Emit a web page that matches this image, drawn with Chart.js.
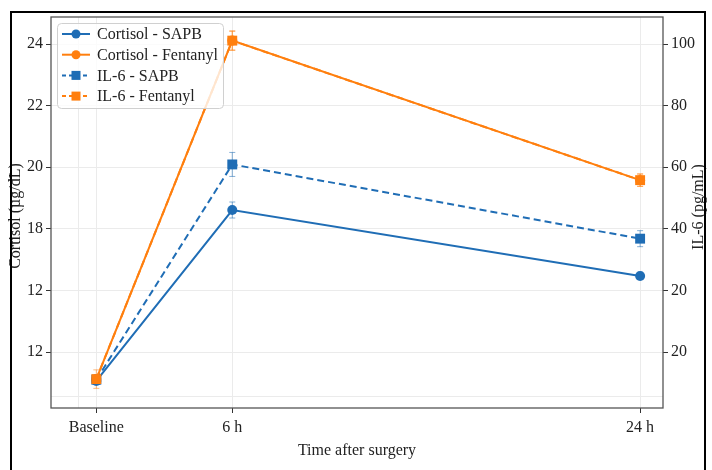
<!DOCTYPE html>
<html><head><meta charset="utf-8">
<script src="https://cdn.jsdelivr.net/npm/chart.js@4.4.1/dist/chart.umd.min.js"></script>
<style>html,body{margin:0;padding:0;background:#fff;}canvas{display:block;}</style>
</head><body>
<canvas id="c" width="712" height="470"></canvas>
<script>
// ---- data ----
const timeLabels = ['Baseline', '6 h', '24 h'];
const timeValues = [0, 6, 24];
const cortisolSAPB = [13.06, 18.61, 16.47];
const cortisolSAPBErr = [0.1, 0.26, 0.12];
const cortisolFent = [13.12, 24.11, 19.58];
const cortisolFentErr = [0.12, 0.3, 0.2];
const il6SAPB = [-9.0, 60.9, 36.8];
const il6SAPBErr = [1.5, 3.9, 2.6];
const il6Fent = [-8.8, 101.1, 55.8];
const il6FentErr = [3.0, 3.2, 2.0];
const leftTickValues = [14, 16, 18, 20, 22, 24];
const leftTickLabels = ['12', '12', '18', '20', '22', '24'];
const rightTickValues = [0, 20, 40, 60, 80, 100];
const rightTickLabels = ['20', '20', '40', '60', '80', '100'];
const extraYGrid = 12.54;
const extraXGrid = -0.8;

const BLUE = '#1f6db5';
const ORANGE = '#ff7f0e';
const FONT = "'Liberation Serif', 'DejaVu Serif', serif";

const pts = arr => arr.map((v, i) => ({x: timeValues[i], y: v}));

const datasets = [
  {label: 'Cortisol - SAPB', data: pts(cortisolSAPB), err: cortisolSAPBErr, yAxisID: 'y',
   borderColor: BLUE, backgroundColor: BLUE, pointStyle: 'circle', pointRadius: 5, order: 4, dash: []},
  {label: 'Cortisol - Fentanyl', data: pts(cortisolFent), err: cortisolFentErr, yAxisID: 'y',
   borderColor: ORANGE, backgroundColor: ORANGE, pointStyle: 'circle', pointRadius: 5, order: 3, dash: []},
  {label: 'IL-6 - SAPB', data: pts(il6SAPB), err: il6SAPBErr, yAxisID: 'y2',
   borderColor: BLUE, backgroundColor: BLUE, pointStyle: 'rect', pointRadius: 7, order: 2, borderDash: [7, 4], dash: [4, 3]},
  {label: 'IL-6 - Fentanyl', data: pts(il6Fent), err: il6FentErr, yAxisID: 'y2',
   borderColor: ORANGE, backgroundColor: ORANGE, pointStyle: 'rect', pointRadius: 7, order: 1, borderDash: [7, 4], dash: [4, 3]}
];
datasets.forEach(d => { d.borderWidth = 2; d.pointBorderWidth = 0; d.tension = 0; d.fill = false; });

const errPlugin = {
  id: 'errbars',
  beforeDatasetsDraw(chart) {
    const ctx = chart.ctx, xs = chart.scales.x;
    ctx.save();
    chart.data.datasets.forEach(ds => {
      const ys = chart.scales[ds.yAxisID];
      ctx.strokeStyle = ds.borderColor;
      ctx.globalAlpha = 0.55;
      ctx.lineWidth = 1;
      ds.data.forEach((p, i) => {
        const e = ds.err[i];
        const x = xs.getPixelForValue(p.x);
        const y1 = ys.getPixelForValue(p.y - e), y2 = ys.getPixelForValue(p.y + e);
        ctx.beginPath();
        ctx.moveTo(x, y1); ctx.lineTo(x, y2);
        ctx.moveTo(x - 3, y1); ctx.lineTo(x + 3, y1);
        ctx.moveTo(x - 3, y2); ctx.lineTo(x + 3, y2);
        ctx.stroke();
      });
    });
    ctx.restore();
  }
};

const framePlugin = {
  id: 'frame',
  afterDraw(chart) {
    const ctx = chart.ctx, a = chart.chartArea;
    ctx.save();
    // legend
    const lx = 57, ly = 23, lw = 166, lh = 85;
    ctx.globalAlpha = 0.8;
    ctx.fillStyle = '#fff';
    ctx.beginPath(); ctx.roundRect(lx, ly, lw, lh, 4); ctx.fill();
    ctx.globalAlpha = 1;
    ctx.strokeStyle = '#d0d0d0'; ctx.lineWidth = 1;
    ctx.beginPath(); ctx.roundRect(lx + 0.5, ly + 0.5, lw, lh, 4); ctx.stroke();
    chart.data.datasets.forEach((ds, i) => {
      const y = 34 + i * 20.7;
      ctx.strokeStyle = ds.borderColor; ctx.fillStyle = ds.borderColor;
      ctx.lineWidth = 2;
      ctx.setLineDash(ds.dash);
      ctx.beginPath(); ctx.moveTo(62, y); ctx.lineTo(90, y); ctx.stroke();
      ctx.setLineDash([]);
      if (ds.pointStyle === 'circle') {
        ctx.beginPath(); ctx.arc(76, y, 4.5, 0, Math.PI * 2); ctx.fill();
      } else {
        ctx.fillRect(71.5, y - 4.5, 9, 9);
      }
      ctx.fillStyle = '#222';
      ctx.font = '16px ' + FONT;
      ctx.textBaseline = 'middle'; ctx.textAlign = 'left';
      ctx.fillText(ds.label, 97, y + 1);
    });
    // plot frame
    ctx.strokeStyle = '#555'; ctx.lineWidth = 1.3;
    ctx.strokeRect(a.left, a.top, a.right - a.left, a.bottom - a.top);
    // axis titles
    ctx.fillStyle = '#222';
    ctx.font = '16px ' + FONT;
    ctx.textAlign = 'center'; ctx.textBaseline = 'middle';
    ctx.save(); ctx.translate(16, 216); ctx.rotate(-Math.PI / 2); ctx.fillText('Cortisol (µg/dL)', 0, 0); ctx.restore();
    ctx.save(); ctx.translate(699, 207); ctx.rotate(-Math.PI / 2); ctx.fillText('IL-6 (pg/mL)', 0, 0); ctx.restore();
    // outer figure frame
    ctx.strokeStyle = '#000'; ctx.lineWidth = 2;
    ctx.strokeRect(11, 12, 694, 470);
    ctx.restore();
  }
};

const tickFont = {family: FONT, size: 16};
const yMin = 12.182, yMax = 24.877;

new Chart(document.getElementById('c'), {
  type: 'line',
  data: {datasets},
  options: {
    responsive: false,
    animation: false,
    devicePixelRatio: 1,
    layout: {padding: {top: 17, left: 0, right: 0, bottom: 0}},
    plugins: {legend: {display: false}, tooltip: {enabled: false}},
    scales: {
      x: {
        type: 'linear', min: -2.0, max: 25.01,
        afterBuildTicks: s => { s.ticks = [extraXGrid, ...timeValues].map(v => ({value: v})); },
        afterFit: s => { s.height = 62; },
        ticks: {font: tickFont, color: '#222', padding: 5, maxRotation: 0, autoSkip: false,
          callback: v => { const i = timeValues.indexOf(v); return i >= 0 ? timeLabels[i] : ''; }},
        grid: {color: '#ebebeb', lineWidth: 1, tickLength: 5,
          tickColor: c => (c.tick && c.tick.value === extraXGrid) ? 'rgba(0,0,0,0)' : '#333'},
        border: {display: false},
        title: {display: true, text: 'Time after surgery', font: {family: FONT, size: 16}, color: '#222',
          padding: {top: 0, bottom: 10}}
      },
      y: {
        type: 'linear', position: 'left', min: yMin, max: yMax,
        afterBuildTicks: s => { s.ticks = [extraYGrid, ...leftTickValues].map(v => ({value: v})); },
        afterFit: s => { s.width = 51; },
        ticks: {font: tickFont, color: '#222', padding: 3, autoSkip: false,
          callback: v => { const i = leftTickValues.indexOf(v); return i >= 0 ? leftTickLabels[i] : ''; }},
        grid: {color: '#ebebeb', lineWidth: 1, tickLength: 5,
          tickColor: c => (c.tick && c.tick.value === extraYGrid) ? 'rgba(0,0,0,0)' : '#333'},
        border: {display: false}
      },
      y2: {
        type: 'linear', position: 'right', min: (yMin - 14) * 10, max: (yMax - 14) * 10,
        afterBuildTicks: s => { s.ticks = rightTickValues.map(v => ({value: v})); },
        afterFit: s => { s.width = 49; },
        ticks: {font: tickFont, color: '#222', padding: 3, autoSkip: false,
          callback: v => { const i = rightTickValues.indexOf(v); return i >= 0 ? rightTickLabels[i] : ''; }},
        grid: {drawOnChartArea: false, tickLength: 5, tickColor: '#333'},
        border: {display: false}
      }
    }
  },
  plugins: [errPlugin, framePlugin]
});
</script>
</body></html>
